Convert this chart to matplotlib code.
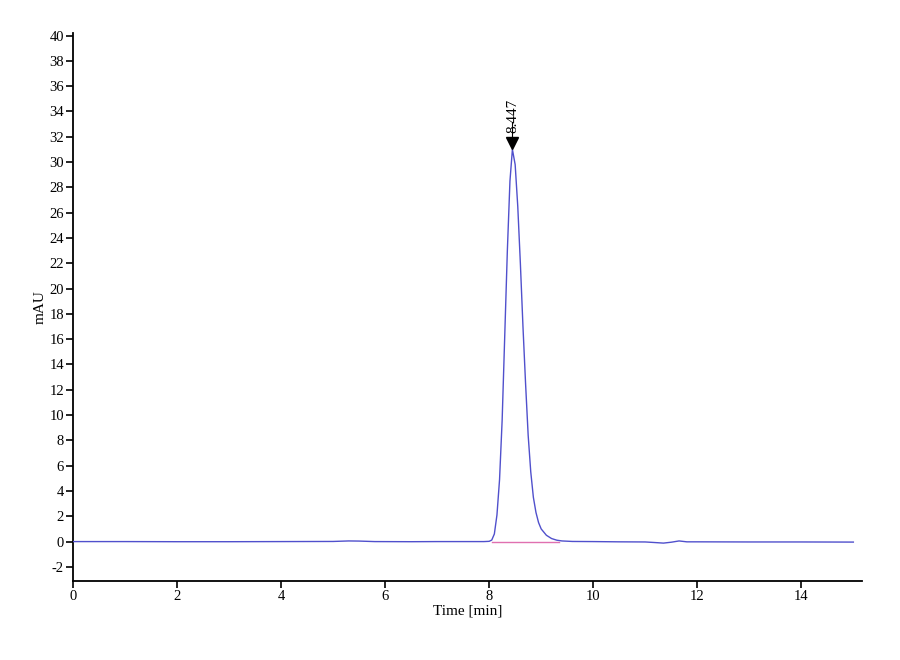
import matplotlib
matplotlib.use("Agg")
import matplotlib.pyplot as plt
import numpy as np

plt.rcParams['font.family'] = ['Liberation Serif', 'DejaVu Serif']
plt.rcParams['axes.unicode_minus'] = False

# chromatogram trace (time in min, signal in mAU)
time = [0.0, 1.0, 2.0, 3.0, 4.0, 5.0, 5.3, 5.5, 5.8, 6.5, 7.0, 7.5, 7.9,
        8.00, 8.05, 8.10, 8.15, 8.20, 8.25, 8.30, 8.35, 8.40, 8.447,
        8.50, 8.55, 8.60, 8.65, 8.70, 8.75, 8.80, 8.85, 8.90, 8.95,
        9.00, 9.10, 9.20, 9.30, 9.40, 9.60, 10.0, 10.5, 11.0, 11.2,
        11.35, 11.5, 11.65, 11.8, 12.0, 13.0, 14.0, 15.0]
signal = [0.0, 0.0, -0.01, -0.01, 0.0, 0.01, 0.05, 0.04, 0.0, -0.01, 0.0, 0.0, 0.0,
          0.02, 0.12, 0.6, 2.1, 4.9, 9.6, 16.3, 23.0, 28.5, 31.0,
          29.8, 26.5, 22.0, 17.0, 12.5, 8.4, 5.5, 3.5, 2.3, 1.5,
          1.0, 0.5, 0.24, 0.11, 0.05, 0.01, 0.0, -0.02, -0.03, -0.08,
          -0.12, -0.05, 0.05, -0.02, -0.02, -0.03, -0.03, -0.04]

# integration baseline under the peak
base_t = [8.05, 9.35]
base_v = [0.0, 0.0]

peak_time = 8.447
peak_height = 31.0
peak_label = "8.447"

fig = plt.figure(figsize=(9, 6.6), dpi=100)
ax = fig.add_axes([0.081, 0.12, 0.877, 0.83])

ax.plot(base_t, base_v, color='#e070b0', lw=1.0, zorder=2)
ax.plot(time, signal, color='#5050cc', lw=1.0, zorder=3)

# peak marker and label
ax.plot([peak_time], [peak_height + 0.5], marker='v', color='black',
        markersize=8, zorder=4)
ax.plot([peak_time, peak_time], [peak_height + 0.5, peak_height + 2.2],
        color='black', lw=0.8, zorder=4)
ax.text(peak_time, peak_height + 1.3, peak_label, rotation=90,
        ha='center', va='bottom', fontsize=11)

ax.set_xlim(0, 15.17)
ax.set_ylim(-3.1, 40.2)
ax.set_xticks(np.arange(0, 15, 2))
ax.set_yticks(np.arange(-2, 41, 2))
ax.tick_params(direction='out', length=5, width=1.2, labelsize=10.5, pad=1.5)
for s in ['top', 'right']:
    ax.spines[s].set_visible(False)
for s in ['left', 'bottom']:
    ax.spines[s].set_linewidth(1.3)

ax.set_xlabel("Time [min]", fontsize=11, labelpad=1)
ax.set_ylabel("mAU", fontsize=11)
ax.yaxis.set_label_coords(-0.033, 0.5)

fig.savefig("out.png", dpi=100)
